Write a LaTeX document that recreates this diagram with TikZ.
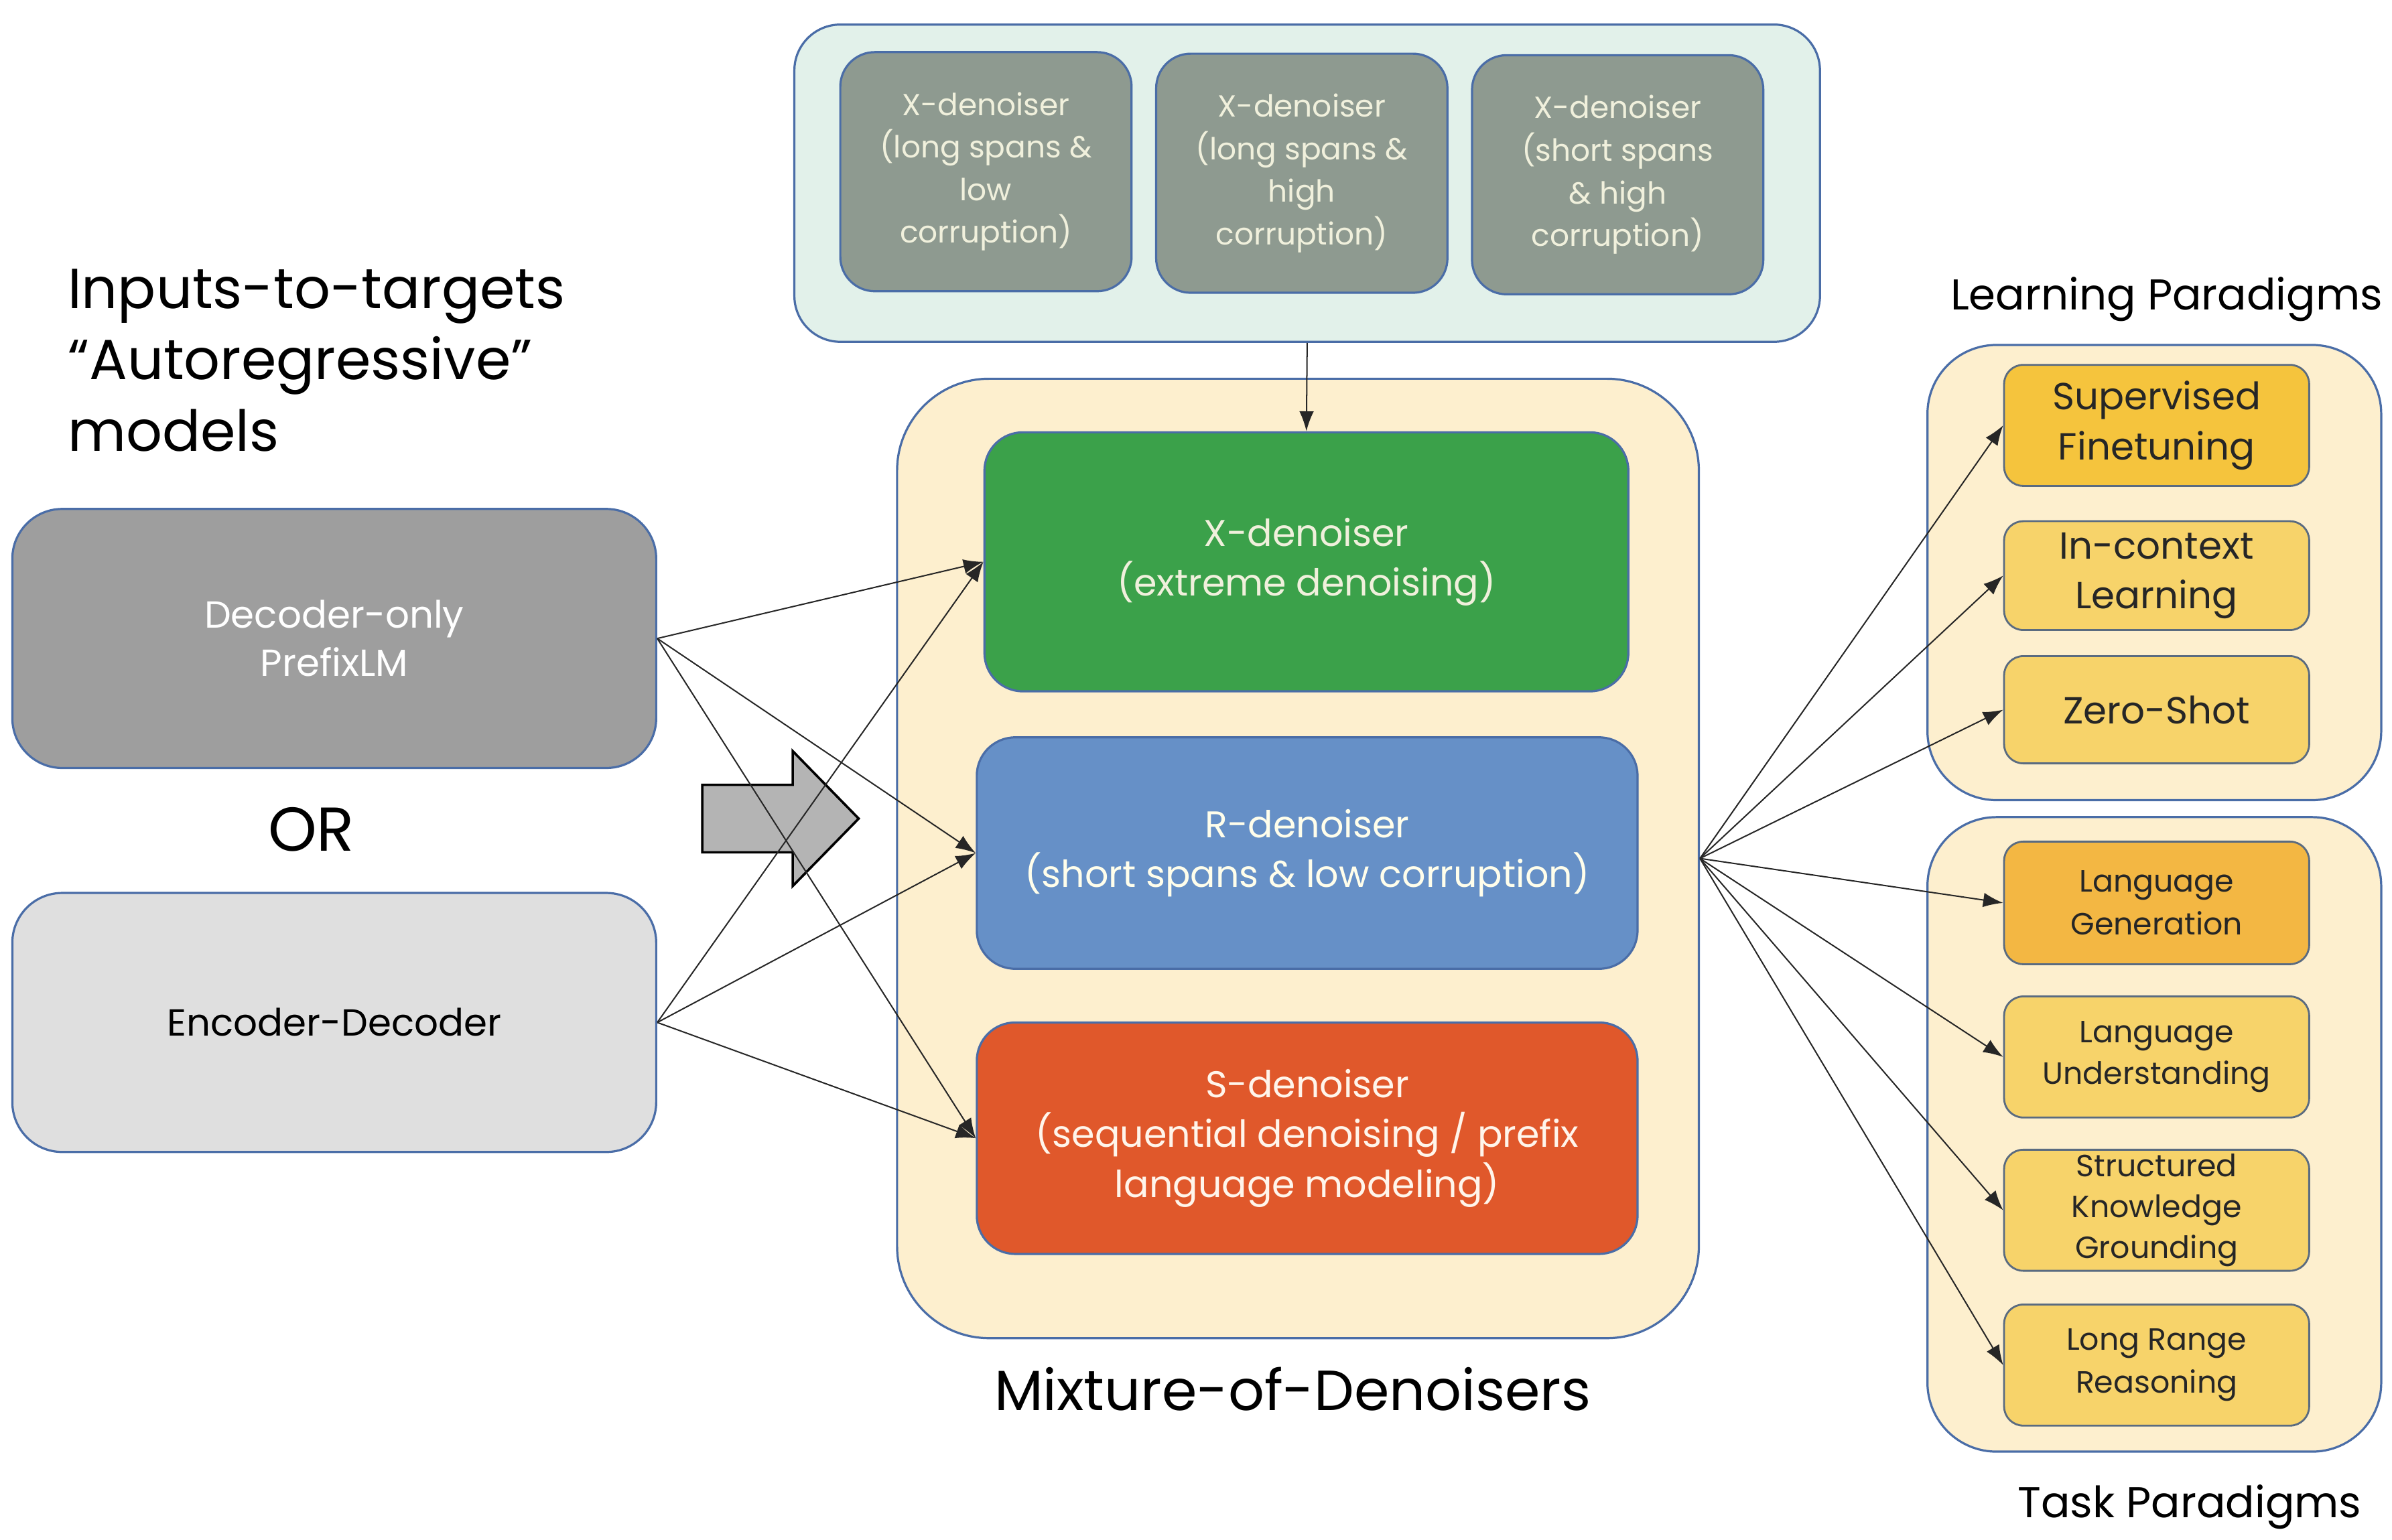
\documentclass[tikz,border=0pt]{standalone}
\usepackage{fontspec}
\setmainfont{Poppins}
\usetikzlibrary{arrows.meta}

\definecolor{edgeblue}{HTML}{4A6DA7}
\definecolor{mintbg}{HTML}{E2F1EA}
\definecolor{xgray}{HTML}{8E9A90}
\definecolor{xtext}{HTML}{F0F0DC}
\definecolor{creambg}{HTML}{FDEFCE}
\definecolor{xgreen}{HTML}{3BA14A}
\definecolor{rblue}{HTML}{6690C7}
\definecolor{sred}{HTML}{E0582B}
\definecolor{decgray}{HTML}{9E9E9E}
\definecolor{encgray}{HTML}{DFDFDF}
\definecolor{sftyellow}{HTML}{F5C43D}
\definecolor{paleyellow}{HTML}{F7D36A}
\definecolor{lgorange}{HTML}{F3B743}
\definecolor{paraedge}{HTML}{5A6B80}
\definecolor{arrowgray}{HTML}{B4B4B4}

\begin{document}
\begin{tikzpicture}[x=0.02cm,y=-0.02cm,
    box/.style={draw=edgeblue, line width=0.8pt, align=center, inner sep=0pt},
    group/.style={box, fill=creambg, minimum width=5.92cm, rounded corners=0.9cm},
    xsub/.style={box, fill=xgray, text=xtext, minimum width=3.8cm, minimum height=3.12cm,
        rounded corners=0.45cm, font=\fontsize{11.3}{15.8}\selectfont},
    den/.style={box, minimum width=8.62cm, minimum height=3.02cm, rounded corners=0.5cm,
        font=\fontsize{13.8}{18.5}\selectfont},
    model/.style={box, minimum width=8.4cm, minimum height=3.38cm, rounded corners=0.65cm,
        font=\fontsize{14}{18}\selectfont},
    para/.style={draw=paraedge, line width=0.7pt, align=center, inner sep=0pt, text=black!85,
        minimum width=3.98cm, rounded corners=0.25cm},
    title/.style={font=\fontsize{21}{26.5}\selectfont},
    heading/.style={font=\fontsize{16}{20}\selectfont},
    link/.style={-{Latex[length=0.26cm,width=0.19cm]}, line width=0.5pt, black!85}]
    \useasboundingbox (0,0) rectangle (1560,1004.2);

    % denoiser variants
    \node[box, fill=mintbg, minimum width=13.38cm, minimum height=4.14cm, rounded corners=0.6cm] (xgroup) at (852.5,119.5) {};
    \node[xsub] (xlong) at (643,112) {X-denoiser\\(long spans \&\\low\\corruption)};
    \node[xsub] (xhigh) at (849,113) {X-denoiser\\(long spans \&\\high\\corruption)};
    \node[xsub] (xshort) at (1055,114) {X-denoiser\\(short spans\\\& high\\corruption)};

    \node[box, fill=creambg, minimum width=10.46cm, minimum height=12.52cm, rounded corners=1.2cm] (mod) at (846.5,560) {};
    \node[den, fill=xgreen, text=xtext, minimum width=8.4cm, minimum height=3.38cm] (xden) at (852,366.5) {X-denoiser\\(extreme denoising)};
    \node[den, fill=rblue, text=white!92!yellow] (rden) at (852.5,556.5) {R-denoiser\\(short spans \& low corruption)};
    \node[den, fill=sred, text=white!92!orange] (sden) at (852.5,742.5) {S-denoiser\\(sequential denoising / prefix\\language modeling)};
    \node[title] (modlabel) at (843,906) {Mixture-of-Denoisers};

    % model types
    \node[title, anchor=west, align=left] (inputs) at (38,235) {Inputs-to-targets\\``Autoregressive''\\models};
    \node[model, fill=decgray, text=white] (dec) at (218,416.5) {Decoder-only\\PrefixLM};
    \node[font=\fontsize{23}{27}\selectfont] (orlabel) at (203,541) {OR};
    \node[model, fill=encgray, text=black] (encdec) at (218,667) {Encoder-Decoder};
    \draw[fill=arrowgray, line width=0.9pt] (458,512) -- (517,512) -- (517,490) -- (560,534)
        -- (517,578) -- (517,556) -- (458,556) -- cycle;

    % paradigms
    \node[heading] (learnlabel) at (1413,195) {Learning Paradigms};
    \node[group, minimum height=5.94cm] (learn) at (1405,373.5) {};
    \node[para, fill=sftyellow, minimum height=1.58cm, font=\fontsize{14}{18.5}\selectfont] (sft) at (1406.5,277.5) {Supervised\\Finetuning};
    \node[para, fill=paleyellow, minimum height=1.42cm, font=\fontsize{14}{18.5}\selectfont] (icl) at (1406.5,375.5) {In-context\\Learning};
    \node[para, fill=paleyellow, minimum height=1.4cm, font=\fontsize{14}{18.5}\selectfont] (zs) at (1406.5,463) {Zero-Shot};

    \node[group, minimum height=8.28cm] (task) at (1405,740) {};
    \node[para, fill=lgorange, minimum height=1.6cm, font=\fontsize{11.4}{15.8}\selectfont] (lg) at (1406.5,589) {Language\\Generation};
    \node[para, fill=paleyellow, minimum height=1.58cm, font=\fontsize{11.4}{15.5}\selectfont] (lu) at (1406.5,689.5) {Language\\Understanding};
    \node[para, fill=paleyellow, minimum height=1.58cm, font=\fontsize{11.4}{15.2}\selectfont] (skg) at (1406.5,789.5) {Structured\\Knowledge\\Grounding};
    \node[para, fill=paleyellow, minimum height=1.58cm, font=\fontsize{11.4}{15.8}\selectfont] (lrr) at (1406.5,890.5) {Long Range\\Reasoning};
    \node[heading] (tasklabel) at (1428,983) {Task Paradigms};

    \draw[link] (xgroup.south) -- (xden.north);
    \foreach \src in {dec,encdec}
        \foreach \dst in {xden,rden,sden}
            \draw[link] (\src.east) -- (\dst.west);
    \foreach \dst in {sft,icl,zs,lg,lu,skg,lrr}
        \draw[link] (mod.east) -- (\dst.west);
\end{tikzpicture}
\end{document}
